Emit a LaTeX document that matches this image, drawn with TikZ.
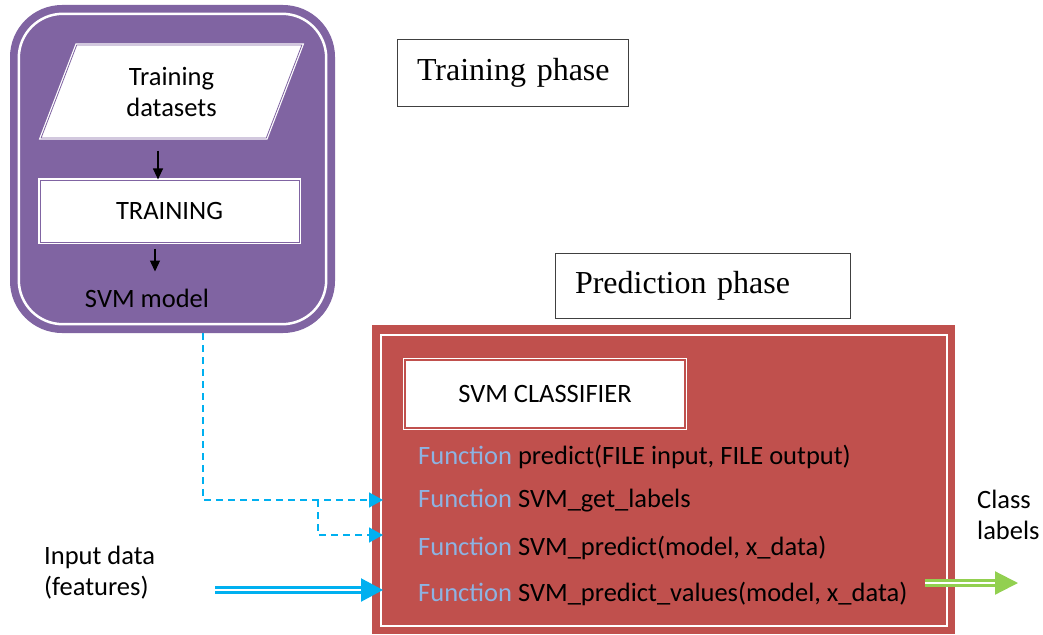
\documentclass[tikz,border=0pt]{standalone}
\usepackage{fontspec}
\setmainfont{Carlito}
\newfontfamily\phasefont{Liberation Serif}
\usetikzlibrary{arrows.meta,shapes.geometric}

\definecolor{svmpurple}{HTML}{8064A2}
\definecolor{svmred}{HTML}{C0504D}
\definecolor{svmblue}{HTML}{00B0F0}
\definecolor{svmgreen}{HTML}{92D050}
\definecolor{fnblue}{HTML}{8DB3E2}

\begin{document}
\begin{tikzpicture}[x=1pt,y=-1pt,font=\fontsize{26.5}{31}\selectfont]
        \tikzstyle{phase}=[draw=black!75,line width=1pt,fill=white,inner xsep=20pt,align=left,font=\phasefont\fontsize{32}{38}\selectfont]
        \tikzstyle{stepbox}=[rectangle,fill=white,draw=white,line width=1.2pt,double=svmpurple,double distance=0.8pt]
        \tikzstyle{fnline}=[anchor=west,inner sep=0pt]
        \tikzstyle{flow}=[draw=black,line width=1.2pt,-{Triangle[length=11pt,width=10pt]}]
        \tikzstyle{model}=[draw=svmblue,line width=1.5pt,dash pattern=on 7pt off 5pt,-{Triangle[length=14pt,width=15pt]}]
        \tikzstyle{feed}=[draw=svmblue,line width=2.2pt,double=white,double distance=2.8pt,-{Triangle[length=22pt,width=23pt]}]
        \tikzstyle{result}=[draw=svmgreen,line width=2.2pt,double=white,double distance=2.8pt,-{Triangle[length=23pt,width=23pt]}]

        \useasboundingbox[fill=white] (0,0) rectangle (1043,634);

        % training side
        \node [rectangle,rounded corners=52pt,fill=svmpurple,minimum width=325pt,minimum height=328pt] (svm) at (172.5,169) {};
        \draw [white,line width=2.5pt,rounded corners=44pt] ([shift={(9,9)}]svm.north west) rectangle ([shift={(-9,-9)}]svm.south east);

        \node [trapezium,trapezium left angle=72,trapezium right angle=108,trapezium stretches=true,fill=white,draw=white,line width=1.2pt,double=svmpurple,double distance=0.8pt,minimum width=261pt,minimum height=93pt,align=center] (data) at (171.5,91.5) {Training\\datasets};
        \node [stepbox,minimum width=259pt,minimum height=62pt] (train) at (169.5,211) {TRAINING};
        \node [inner sep=0pt] (mdl) at (147,298) {SVM model};

        \draw [flow,shorten <=12pt] ([xshift=-11.5pt]train.north |- data.south) -- ([xshift=-11.5pt]train.north);
        \draw [flow,shorten <=6pt,shorten >=17pt] ([xshift=8pt]mdl.north |- train.south) -- ([xshift=8pt]mdl.north);

        \node [phase,text width=191pt,minimum height=66pt] (tphase) at (512.5,73) {\mbox{Training phase}};
        \node [phase,text width=255pt,minimum height=65pt] (pphase) at (702.5,285.5) {\mbox{Prediction phase}};

        % prediction side
        \node [rectangle,fill=svmred,minimum width=583pt,minimum height=309pt] (pred) at (663.5,479.5) {};
        \draw [white,line width=2.5pt] ([shift={(9,10)}]pred.north west) rectangle ([shift={(-8,-8)}]pred.south east);

        \node [stepbox,double=svmred,line width=1.5pt,double distance=1.5pt,minimum width=280pt,minimum height=68pt] (clf) at (545,394) {SVM CLASSIFIER};

        \node [fnline] (f1) at (418,457) {\textcolor{fnblue}{Function} predict(FILE input, FILE output)};
        \node [fnline] (f2) at (418,501) {\textcolor{fnblue}{Function} SVM\_get\_labels};
        \node [fnline] (f3) at (418,548) {\textcolor{fnblue}{Function} SVM\_predict(model, x\_data)};
        \node [fnline] (f4) at (418,594) {\textcolor{fnblue}{Function} SVM\_predict\_values(model, x\_data)};

        \node [anchor=west,align=left,inner sep=0pt] (input) at (44,573) {Input data\\(features)};
        \node [anchor=west,align=left,inner sep=0pt] (cls) at (977,515) {Class\\labels};

        \coordinate (getin) at (383,500);
        \coordinate (split) at (318,500);
        \coordinate (predin) at (383,535);
        \coordinate (featsrc) at (215,590);
        \coordinate (featin) at (383,590);
        \coordinate (outsrc) at (925,583);
        \coordinate (outend) at (1018,583);

        \draw [model] ([xshift=30.5pt]svm.south) |- (getin);
        \draw [model] (split) |- (predin);
        \draw [feed] (featsrc) -- (featin);
        \draw [result] (outsrc) -- (outend);
\end{tikzpicture}
\end{document}
